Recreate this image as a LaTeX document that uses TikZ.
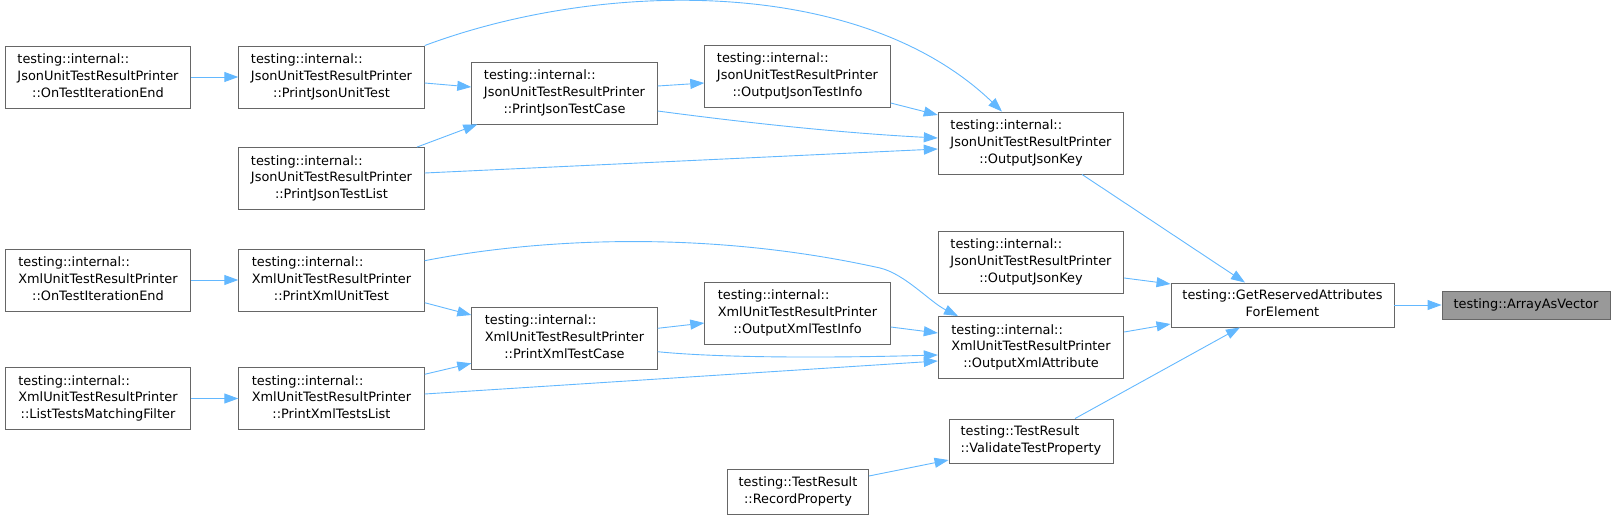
\documentclass[tikz,border=0pt]{standalone}
\usepackage{fontspec}
\setmainfont{DejaVu Sans}
\usetikzlibrary{arrows.meta}
\definecolor{edgeBlue}{HTML}{63B8FF}
\definecolor{boxGray}{HTML}{666666}
\definecolor{hiGray}{HTML}{999999}
% first lines flush left, last line centred
\newcommand{\fnthree}[3]{\begin{tabular}{@{}l@{}}#1\\#2\\\multicolumn{1}{@{}c@{}}{#3}\end{tabular}}
\newcommand{\fntwo}[2]{\begin{tabular}{@{}l@{}}#1\\\multicolumn{1}{@{}c@{}}{#2}\end{tabular}}

\begin{document}
\begin{tikzpicture}[x=1pt, y=-1pt,
  fn/.style={draw=boxGray, fill=white, line width=0.9pt, inner sep=0pt,
             font={\fontsize{12.9}{16.7}\selectfont}},
  fnw/.style={fn, minimum width=185.5pt, minimum height=62pt},
  fnhi/.style={fn, fill=hiGray, minimum width=168pt, minimum height=28pt},
  call/.style={-{Triangle[length=14pt, width=10pt]}, line width=0.9pt, draw=edgeBlue}
]
\useasboundingbox (0,0) rectangle (1615,519);

% json printer
\node[fnw] (jOnEnd) at (98,77)      {\fnthree{testing::internal::}{JsonUnitTestResultPrinter}{::OnTestIterationEnd}};
\node[fnw] (jUnit)  at (331.5,77)   {\fnthree{testing::internal::}{JsonUnitTestResultPrinter}{::PrintJsonUnitTest}};
\node[fnw] (jCase)  at (564.5,93)   {\fnthree{testing::internal::}{JsonUnitTestResultPrinter}{::PrintJsonTestCase}};
\node[fnw] (jList)  at (331.5,178.5) {\fnthree{testing::internal::}{JsonUnitTestResultPrinter}{::PrintJsonTestList}};
\node[fnw] (jInfo)  at (797.5,76)   {\fnthree{testing::internal::}{JsonUnitTestResultPrinter}{::OutputJsonTestInfo}};
\node[fnw] (jKey)   at (1031,143)   {\fnthree{testing::internal::}{JsonUnitTestResultPrinter}{::OutputJsonKey}};
\node[fnw] (jKeyB)  at (1031,262)   {\fnthree{testing::internal::}{JsonUnitTestResultPrinter}{::OutputJsonKey}};

% xml printer
\node[fnw] (xOnEnd)  at (98,280)      {\fnthree{testing::internal::}{XmlUnitTestResultPrinter}{::OnTestIterationEnd}};
\node[fnw] (xUnit)   at (331.5,280)   {\fnthree{testing::internal::}{XmlUnitTestResultPrinter}{::PrintXmlUnitTest}};
\node[fnw] (xCase)   at (564.5,338.3) {\fnthree{testing::internal::}{XmlUnitTestResultPrinter}{::PrintXmlTestCase}};
\node[fnw] (xFilter) at (98,398.5)    {\fnthree{testing::internal::}{XmlUnitTestResultPrinter}{::ListTestsMatchingFilter}};
\node[fnw] (xList)   at (331.5,398.5) {\fnthree{testing::internal::}{XmlUnitTestResultPrinter}{::PrintXmlTestsList}};
\node[fnw] (xInfo)   at (797.5,313)   {\fnthree{testing::internal::}{XmlUnitTestResultPrinter}{::OutputXmlTestInfo}};
\node[fnw] (xAttr)   at (1031,347.5)  {\fnthree{testing::internal::}{XmlUnitTestResultPrinter}{::OutputXmlAttribute}};

% test result
\node[fn, minimum width=164pt, minimum height=44pt] (valid)  at (1031,441)   {\fntwo{testing::TestResult}{::ValidateTestProperty}};
\node[fn, minimum width=141pt, minimum height=45pt] (record) at (798,491.5) {\fntwo{testing::TestResult}{::RecordProperty}};

% target
\node[fn, minimum width=223pt, minimum height=44pt] (reserved) at (1282.5,305) {\fntwo{testing::GetReservedAttributes}{ForElement}};
\node[fnhi] (vector) at (1526,305) {testing::ArrayAsVector};

% json calls
\draw[call] (jOnEnd.east) -- (jUnit.west);
\draw[call] ([yshift=-6pt]jUnit.east) -- ([yshift=6pt]jCase.west);
\draw[call] ([xshift=85.5pt]jList.north) -- ([xshift=6pt]jCase.south west);
\draw[call] ([yshift=7pt]jCase.east) -- ([yshift=-7pt]jInfo.west);
\draw[call] ([yshift=-27pt]jInfo.east) -- ([yshift=28pt]jKey.west);
\draw[call] ([yshift=-18pt]jCase.east) .. controls (770,126) and (860,134) .. ([yshift=5pt]jKey.west);
\draw[call] ([yshift=5.5pt]jList.east) -- ([yshift=-6pt]jKey.west);
\draw[call] (jUnit.north east) .. controls (600,-20) and (860,-25) .. ([xshift=-29pt]jKey.north);

% xml calls
\draw[call] (xOnEnd.east) -- (xUnit.west);
\draw[call] (xFilter.east) -- (xList.west);
\draw[call] ([yshift=-22.7pt]xUnit.east) -- ([yshift=23.3pt]xCase.west);
\draw[call] ([yshift=24.2pt]xList.east) -- ([yshift=-25pt]xCase.west);
\draw[call] ([yshift=10pt]xCase.east) -- ([yshift=-10pt]xInfo.west);
\draw[call] ([yshift=-14pt]xInfo.east) -- ([yshift=14.5pt]xAttr.west);
\draw[call] ([yshift=-13.4pt]xCase.east) .. controls (720,358) and (830,358) .. ([yshift=-7.5pt]xAttr.west);
\draw[call] ([yshift=4.5pt]xList.east) -- ([yshift=-13.5pt]xAttr.west);
\draw[call] ([yshift=19.3pt]xUnit.east) .. controls (530,240) and (700,228) .. (880,268)
            .. controls (905,274) and (930,302) .. ([xshift=-73pt]xAttr.north);

% into the target
\draw[call] ([xshift=51pt]jKey.south) -- ([xshift=-37.5pt]reserved.north);
\draw[call] ([yshift=-16pt]jKeyB.east) -- ([yshift=21pt]reserved.west);
\draw[call] ([yshift=15.5pt]xAttr.east) -- ([yshift=-19pt]reserved.west);
\draw[call] ([xshift=44pt]valid.north) -- ([xshift=-42.5pt]reserved.south);
\draw[call] ([yshift=15.5pt]record.east) -- ([yshift=-19pt]valid.west);
\draw[call] (reserved.east) -- (vector.west);
\end{tikzpicture}
\end{document}
